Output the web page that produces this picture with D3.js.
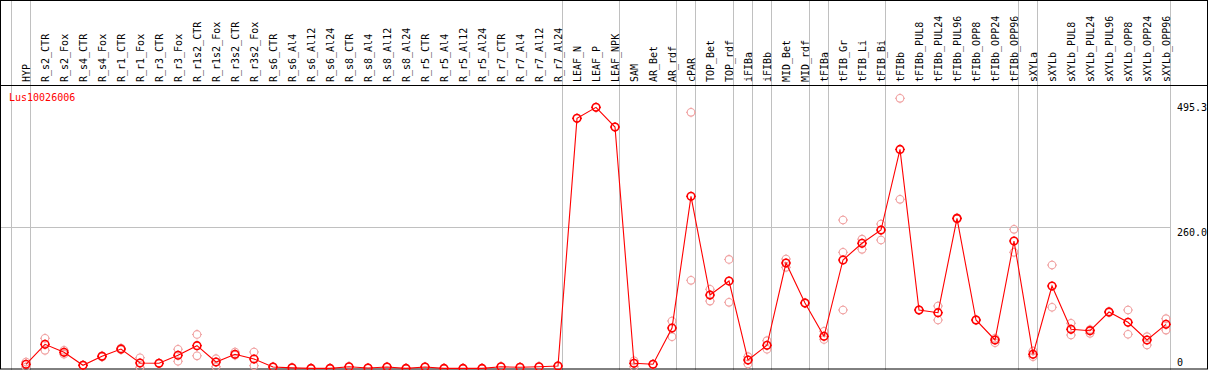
<!DOCTYPE html>
<html lang="en">
  <head>
    <meta charset="utf-8" />
    <title>Lus10026006</title>
    <style>
      body {
        margin: 0;
        background: #fff;
      }
      svg text {
        font-family: 'DejaVu Sans Mono', monospace;
        font-size: 10px;
      }
    </style>
  </head>
  <body>
    <div id="chart"></div>

    <script src="https://cdnjs.cloudflare.com/ajax/libs/d3/7.4.4/d3.min.js"></script>
    <script type="text/javascript">
      // Sample names (columns)
      var samples = [
        'HYP', 'R_s2_CTR', 'R_s2_Fox', 'R_s4_CTR', 'R_s4_Fox', 'R_r1_CTR', 'R_r1_Fox', 'R_r3_CTR', 'R_r3_Fox',
        'R_r1s2_CTR', 'R_r1s2_Fox', 'R_r3s2_CTR', 'R_r3s2_Fox', 'R_s6_CTR', 'R_s6_Al4', 'R_s6_Al12', 'R_s6_Al24',
        'R_s8_CTR', 'R_s8_Al4', 'R_s8_Al12', 'R_s8_Al24', 'R_r5_CTR', 'R_r5_Al4', 'R_r5_Al12', 'R_r5_Al24',
        'R_r7_CTR', 'R_r7_Al4', 'R_r7_Al12', 'R_r7_Al24', 'LEAF_N', 'LEAF_P', 'LEAF_NPK', 'SAM', 'AR_Bet', 'AR_rdf',
        'cPAR', 'TOP_Bet', 'TOP_rdf', 'iFIBa', 'iFIBb', 'MID_Bet', 'MID_rdf', 'tFIBa', 'tFIB_Gr', 'tFIB_Li',
        'tFIB_Bi', 'tFIBb', 'tFIBb_PUL8', 'tFIBb_PUL24', 'tFIBb_PUL96', 'tFIBb_OPP8', 'tFIBb_OPP24', 'tFIBb_OPP96',
        'sXYLa', 'sXYLb', 'sXYLb_PUL8', 'sXYLb_PUL24', 'sXYLb_PUL96', 'sXYLb_OPP8', 'sXYLb_OPP24', 'sXYLb_OPP96'
      ]

      // Mean expression per sample
      var means = [
        9.5, 46, 31.4, 7.7, 24, 37.4, 11.9, 11.3, 26,
        43.5, 13.7, 27.7, 19.2, 4.6, 3, 2, 2,
        5, 2.7, 4.5, 2, 4.5, 2, 2, 2,
        5, 4, 5, 6.4, 458.7, 478.8, 442.8, 11.3, 9.5, 75.8,
        316.3, 136, 161.6, 17.3, 44.2, 194.5, 121.4, 60.6, 200, 230.5,
        254.7, 402, 108.7, 103.7, 276, 90.4, 53.9, 234.7,
        27.7, 152.5, 73.4, 70.9, 105, 86.2, 53.9, 82.5
      ]

      // Replicate values per sample
      var replicates = [
        [13.7, 4.6], [57, 35], [35, 28], [8, 7.4], [25, 23], [39, 36], [21.5, 4], [11.5, 11], [37, 15],
        [64, 25], [19.7, 5], [32, 26], [32, 7], [5, 4], [3.5, 2.5], [2, 2], [2, 2],
        [5.5, 4.5], [3, 2.4], [5, 4], [2, 2], [5, 4], [2, 2], [2, 2], [2, 2],
        [5.5, 4.5], [4.5, 3.5], [5.5, 4.5], [7, 6], [458.7], [478.8], [442.8], [16, 5], [10, 9], [88.6, 60],
        [469.7, 162.9], [146.5, 125], [201, 122.7], [23.4, 10], [52.6, 36.9], [201.8, 186.6], [122, 121], [69.8, 55], [273, 214, 108.7], [238, 219.5],
        [265.7, 236.5], [495.3, 310.8], [109, 108.5], [116, 90.4], [277, 275], [91, 90], [57, 49], [256, 214],
        [33.8, 23.4], [190.8, 113.6], [84.4, 63], [73, 66], [106, 104], [108.7, 64.3], [60, 44.7], [92.8, 72]
      ]

      // Right-hand tick values and labels
      var tickValues = [495.3, 260.0, 0]
      var tickLabels = ['495.3', '260.0', '0']

      // Group separators: sample after which a grey line is drawn (-1 = before first)
      var separators = [-1, 0, 28, 31, 34, 35, 37, 38, 39, 41, 42, 45, 52, 53, 60]

      var geneName = 'Lus10026006'

      var width = 1209,
        height = 370,
        headerY = 85

      var svg = d3.select('#chart').append('svg').attr('width', width).attr('height', height)

      var x = d3.scalePoint().domain(samples).range([26, 1166])
      var step = x.step()
      var y = d3.scaleLinear().domain([0, 495.3]).range([369.5, 98.3])

      function sepX(i) {
        return Math.round(x(samples[0]) + step * i) + 4.5
      }

      // Vertical group lines
      svg
        .append('g')
        .selectAll('line')
        .data(separators)
        .enter()
        .append('line')
        .attr('x1', sepX)
        .attr('x2', sepX)
        .attr('y1', 0)
        .attr('y2', height)
        .attr('stroke', '#c0c0c0')

      // Horizontal grid at middle tick
      svg
        .append('line')
        .attr('x1', 0)
        .attr('x2', sepX(60))
        .attr('y1', Math.round(y(260)) + 0.5)
        .attr('y2', Math.round(y(260)) + 0.5)
        .attr('stroke', '#c0c0c0')

      // Frame and header line
      svg
        .append('rect')
        .attr('x', 0.5)
        .attr('y', 0.5)
        .attr('width', 1207)
        .attr('height', 368.5)
        .attr('fill', 'none')
        .attr('stroke', '#000')
      svg
        .append('line')
        .attr('x1', 0)
        .attr('x2', 1208)
        .attr('y1', headerY + 0.5)
        .attr('y2', headerY + 0.5)
        .attr('stroke', '#000')

      // Column labels
      svg
        .append('g')
        .selectAll('text')
        .data(samples)
        .enter()
        .append('text')
        .attr('transform', (d) => 'translate(' + (x(d) + 4) + ',' + (headerY - 3) + ') rotate(-90)')
        .attr('fill', '#000')
        .text((d) => d)

      // Y tick labels on the right
      var labelDy = [12.5, 9, -3.5]
      svg
        .append('g')
        .selectAll('text')
        .data(tickValues)
        .enter()
        .append('text')
        .attr('x', 1177)
        .attr('y', (d, i) => y(d) + labelDy[i])
        .attr('fill', '#000')
        .text((d, i) => tickLabels[i])

      // Gene label
      svg.append('text').attr('x', 9).attr('y', 101).attr('fill', '#ff0000').text(geneName)

      // marker: open circle with tiny ticks
      function marker(g, cx, cy, color, sw) {
        var m = g.append('g').attr('transform', 'translate(' + cx + ',' + cy + ')')
        m.append('circle').attr('r', 3.8).attr('fill', 'none').attr('stroke', color).attr('stroke-width', sw)
        m.append('path')
          .attr('d', 'M0,-4V-5M0,4V5M-4,0H-5M4,0H5')
          .attr('stroke', color)
          .attr('stroke-width', 1)
      }

      // Replicates
      var repG = svg.append('g')
      samples.forEach(function (s, i) {
        replicates[i].forEach(function (v) {
          marker(repG, x(s), y(v), '#f0a0a0', 1.1)
        })
      })

      // Mean line
      var line = d3
        .line()
        .x((d, i) => x(samples[i]))
        .y((d) => y(d))
      svg.append('path').datum(means).attr('d', line).attr('fill', 'none').attr('stroke', '#ff0000').attr('stroke-width', 1.1)

      var meanG = svg.append('g')
      means.forEach(function (v, i) {
        marker(meanG, x(samples[i]), y(v), '#ff0000', 1.6)
      })
    </script>
  </body>
</html>
